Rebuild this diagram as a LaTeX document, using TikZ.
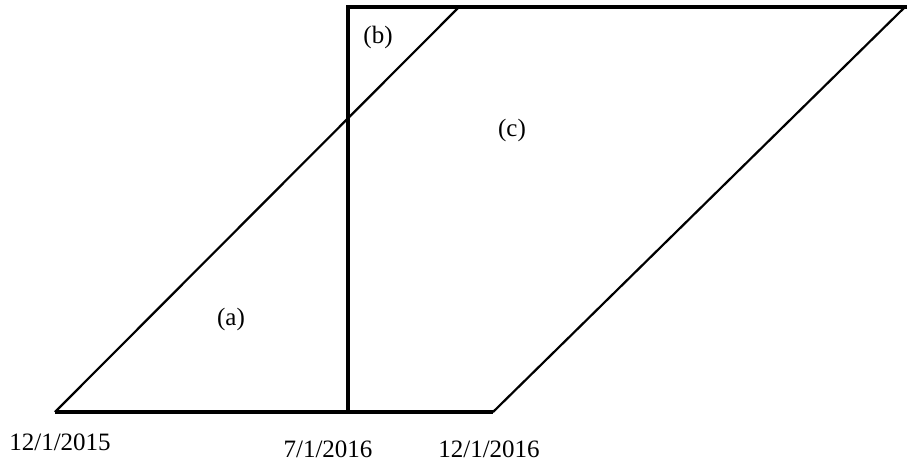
\documentclass[tikz,border=0pt]{standalone}
\usepackage{fontspec}
\setmainfont{Liberation Serif}
\usetikzlibrary{positioning}

\begin{document}
\begin{tikzpicture}[x=1pt, y=-1pt,
    heavy/.style={line width=3.8pt},
    slant/.style={line width=2.2pt},
    lbl/.style={font=\fontsize{25}{29}\selectfont, inner sep=0pt}]

  % 参数定义 (像素坐标)
  \def\yBot{412}   % 底边
  \def\yTop{7}     % 顶边
  \def\xCut{348}   % 竖直分割线

  \useasboundingbox (0,0) rectangle (907,464);

  % 1. 平行四边形的四个角与分割线端点
  \coordinate (bl) at (55,\yBot);
  \coordinate (br) at (493,\yBot);
  \coordinate (tl) at (459,\yTop);
  \coordinate (tr) at (905,\yTop);
  \coordinate (cutbot) at (\xCut,\yBot);
  \coordinate (cuttop) at (\xCut,\yTop);

  % 2. 粗线: 底边, 顶边, 竖线
  \draw[heavy] (bl) -- (br);
  \draw[heavy, line cap=rect] (cuttop) -- (tr);
  \draw[heavy] (cutbot) -- (cuttop);

  % 3. 斜边
  \draw[slant] (bl) -- (tl);
  \draw[slant] (br) -- (tr);

  % 4. 区域标注
  \node[lbl] (ra) at (231,319) {(a)};
  \node[lbl] (rb) at (378,37) {(b)};
  \node[lbl] (rc) at (512,130) {(c)};

  % 5. 日期
  \node[lbl] (d1) at (60,442) {12/1/2015};
  \node[lbl] (d2) at (328,449) {7/1/2016};
  \node[lbl] (d3) at (489,449) {12/1/2016};

\end{tikzpicture}
\end{document}
